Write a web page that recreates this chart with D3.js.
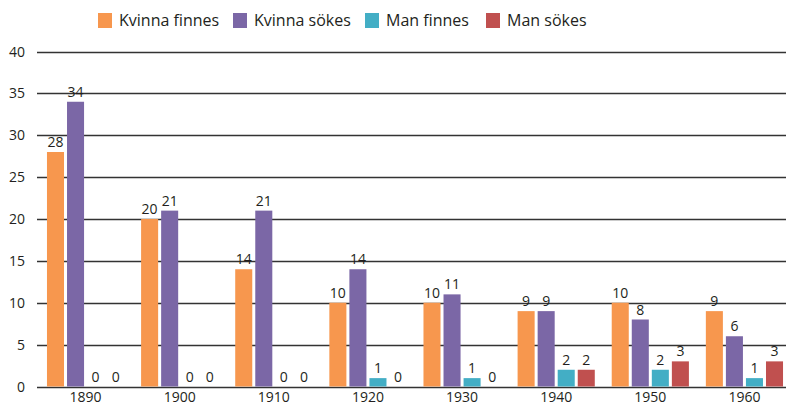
<!DOCTYPE html>
<html><head><meta charset="utf-8">
<script src="https://cdn.jsdelivr.net/npm/d3@7"></script>
<style>body{margin:0;background:#fff}svg{display:block}text{font-family:"Open Sans","Noto Sans",sans-serif;fill:#231f20}</style>
</head><body><svg id="c" width="786" height="405"></svg>
<script>
const categories = ["1890","1900","1910","1920","1930","1940","1950","1960"];
const seriesNames = ["Kvinna finnes","Kvinna sökes","Man finnes","Man sökes"];
const kvinnaFinnes = [28,20,14,10,10,9,10,9];
const kvinnaSokes = [34,21,21,14,11,9,8,6];
const manFinnes = [0,0,0,1,1,2,2,1];
const manSokes = [0,0,0,0,0,2,3,3];
const colors = ["#F7974E","#7B67A6","#43AEC5","#C0504F"];
const yTicks = [0,5,10,15,20,25,30,35,40];

const series = [kvinnaFinnes,kvinnaSokes,manFinnes,manSokes];
const svg = d3.select("#c");
const x = d3.scaleBand().domain(categories).range([38.5,791.5]).paddingInner(0.18).paddingOuter(0.09);
const xs = d3.scaleBand().domain(d3.range(4)).range([0,x.bandwidth()]).paddingInner(0.15);
const y = d3.scaleLinear().domain([0,40]).range([386.5,51.5]);

// grid
svg.append("g").selectAll("line").data(yTicks).join("line")
  .attr("x1",37).attr("x2",786).attr("y1",d=>Math.round(y(d))+0.5).attr("y2",d=>Math.round(y(d))+0.5)
  .attr("stroke","#333").attr("stroke-width",1.3);
svg.append("g").selectAll("text").data(yTicks).join("text")
  .attr("x",25).attr("y",d=>y(d)+5).attr("text-anchor","end").attr("font-size",14).text(d=>d);

// bars
const g = svg.append("g");
series.forEach((vals,si)=>{
  g.append("g").selectAll("rect").data(vals).join("rect")
    .attr("x",(d,i)=>x(categories[i])+xs(si)).attr("width",xs.bandwidth())
    .attr("y",d=>y(d)).attr("height",d=>y(0)-y(d)).attr("fill",colors[si]);
  g.append("g").selectAll("text").data(vals).join("text")
    .attr("x",(d,i)=>x(categories[i])+xs(si)+xs.bandwidth()/2)
    .attr("y",d=>y(d)-5).attr("text-anchor","middle").attr("font-size",14).text(d=>d);
});

// x labels
svg.append("g").selectAll("text").data(categories).join("text")
  .attr("x",d=>x(d)+x.bandwidth()/2).attr("y",402).attr("text-anchor","middle").attr("font-size",14).text(d=>d);

// legend
const legX = [98,233,365,486];
const lg = svg.append("g");
seriesNames.forEach((n,i)=>{
  lg.append("rect").attr("x",legX[i]).attr("y",13).attr("width",14).attr("height",15).attr("fill",colors[i]);
  lg.append("text").attr("x",legX[i]+21).attr("y",26).attr("font-size",16).text(n);
});
</script></body></html>
